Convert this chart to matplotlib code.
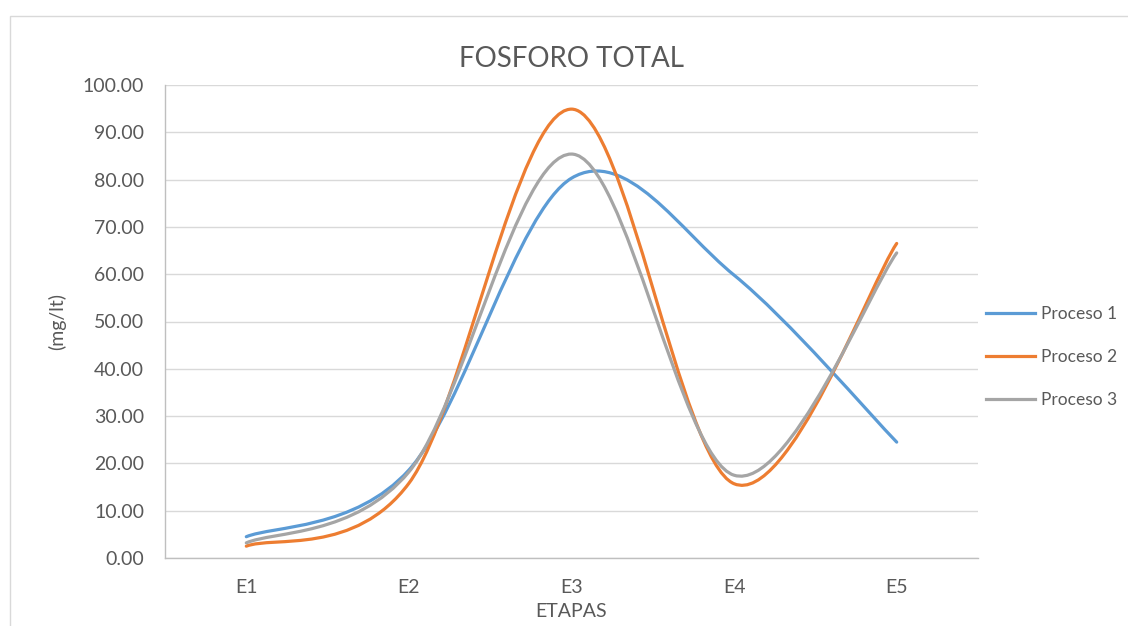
import numpy as np
import matplotlib
matplotlib.use("Agg")
import matplotlib.pyplot as plt
from matplotlib.path import Path
from matplotlib.patches import PathPatch, Rectangle
from matplotlib.lines import Line2D

# data
etapas = ["E1", "E2", "E3", "E4", "E5"]
proceso_1 = [4.5, 18.6, 80.3, 59.8, 24.5]
proceso_2 = [2.5, 15.8, 94.9, 15.7, 66.5]
proceso_3 = [3.2, 18.2, 85.4, 17.5, 64.5]

series = [("Proceso 1", proceso_1, "#5B9BD5"),
          ("Proceso 2", proceso_2, "#ED7D31"),
          ("Proceso 3", proceso_3, "#A5A5A5")]

TEXT = "#595959"
plt.rcParams['font.family'] = ['Lato', 'DejaVu Sans']

W, H = 1128, 626
fig = plt.figure(figsize=(W / 100., H / 100.), dpi=100)
ax = fig.add_axes([165. / W, (H - 558.) / H, (978. - 165.) / W, (558. - 85.) / H])

# chart frame like the spreadsheet export
fig.patches.append(Rectangle((10. / W, -0.2), 1.2, (H - 16.) / H + 0.2,
                             transform=fig.transFigure, fill=False,
                             edgecolor="#D9D9D9", linewidth=1.0))


def smooth_path(xs, ys):
    # spreadsheet style smoothing: Catmull-Rom segments as cubic Beziers
    pts = np.column_stack([xs, ys]).astype(float)
    ext = np.vstack([pts[0], pts, pts[-1]])
    verts = [pts[0]]
    codes = [Path.MOVETO]
    for i in range(1, len(ext) - 2):
        p0, p1, p2, p3 = ext[i - 1], ext[i], ext[i + 1], ext[i + 2]
        c1 = p1 + (p2 - p0) / 6.
        c2 = p2 - (p3 - p1) / 6.
        verts += [c1, c2, p2]
        codes += [Path.CURVE4] * 3
    return Path(verts, codes)


xpos = np.arange(len(etapas))
handles = []
for name, vals, col in series:
    patch = PathPatch(smooth_path(xpos, vals), facecolor="none", edgecolor=col,
                      linewidth=2.3, capstyle="round", joinstyle="round", zorder=3)
    ax.add_patch(patch)
    handles.append(Line2D([], [], color=col, linewidth=2.3, label=name))

ax.set_xlim(-0.5, len(etapas) - 0.5)
ax.set_ylim(0, 100)
ax.set_yticks(np.arange(0, 101, 10))
ax.set_yticklabels(["%.2f" % v for v in np.arange(0, 101, 10)])
ax.set_xticks(xpos)
ax.set_xticklabels(etapas)
ax.tick_params(axis="both", length=0, colors=TEXT, labelsize=14)
ax.tick_params(axis="y", pad=15)
ax.tick_params(axis="x", pad=15)
ax.grid(axis="y", color="#D9D9D9", linewidth=1.0)
ax.set_axisbelow(True)
for side in ["top", "right"]:
    ax.spines[side].set_visible(False)
for side in ["left", "bottom"]:
    ax.spines[side].set_color("#BFBFBF")
    ax.spines[side].set_linewidth(1.0)

ax.set_title("FOSFORO TOTAL", fontsize=20, color=TEXT, pad=13)
ax.set_xlabel("ETAPAS", fontsize=14, color=TEXT, labelpad=5)
ax.set_ylabel("(mg/lt)", fontsize=14, color=TEXT, labelpad=12)

fig.legend(handles=handles, loc="center left",
           bbox_to_anchor=(983. / W, (H - 357.) / H), frameon=False,
           fontsize=12.5, labelcolor=TEXT, handlelength=2.8,
           handletextpad=0.35, labelspacing=1.55, borderpad=0.2,
           borderaxespad=0.0)

fig.savefig("out.png", dpi=100)
